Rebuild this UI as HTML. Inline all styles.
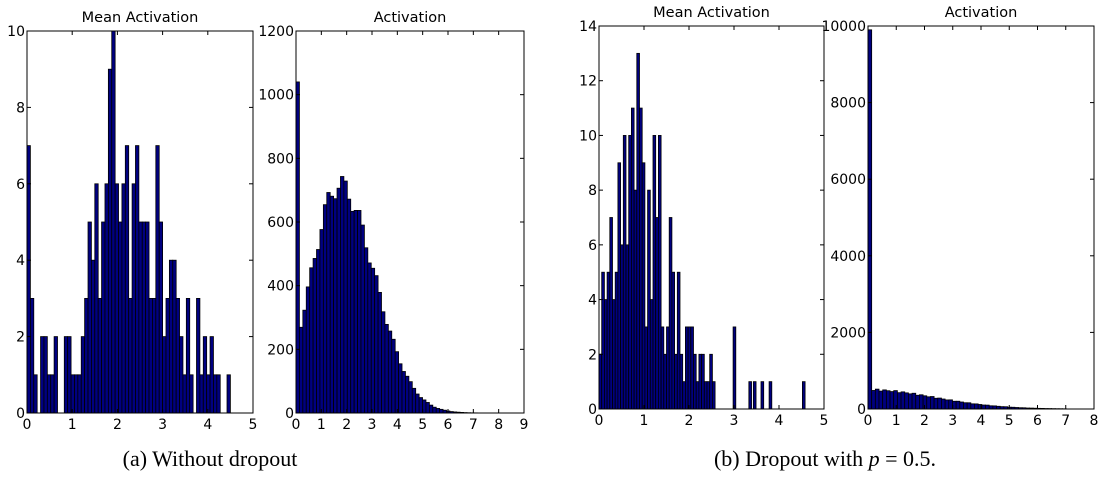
<!DOCTYPE html>
<html><head><meta charset="utf-8"><style>
html,body{margin:0;padding:0;background:#fff;width:1100px;height:483px;overflow:hidden}
svg text{font-family:"DejaVu Sans","Liberation Sans",sans-serif;fill:#000}
.cap{font-family:"Liberation Serif",serif;font-size:22px}
</style></head><body>
<svg id="s" width="1100" height="483" xmlns="http://www.w3.org/2000/svg">
<text class="cap" x="210" y="466" text-anchor="middle">(a) Without dropout</text>
<text class="cap" x="825" y="466" text-anchor="middle">(b) Dropout with <tspan font-style="italic">p</tspan> = 0.5.</text>
</svg>
<script>
var s=document.getElementById('s'),NS='http://www.w3.org/2000/svg';
function el(t,a,txt){var e=document.createElementNS(NS,t);for(var k in a)e.setAttribute(k,a[k]);if(txt!=null)e.textContent=txt;s.appendChild(e);return e;}
function panel(p){
 var sx=function(v){return p.x0+(p.x1-p.x0)*v/p.xmax},sy=function(v){return p.yB-(p.yB-p.yT)*v/p.ymax};
 p.bars.forEach(function(b){if(b[2]<=0)return;var h=Math.min(b[2],p.ymax);
  el('rect',{x:sx(b[0]),y:sy(h),width:Math.max(sx(b[0]+b[1])-sx(b[0]),0.8),height:sy(0)-sy(h),fill:'#000080',stroke:'#000','stroke-width':0.8});});
 el('rect',{x:p.x0,y:p.yT,width:p.x1-p.x0,height:p.yB-p.yT,fill:'none',stroke:'#000','stroke-width':1});
 for(var v=0;v<=p.ymax+1e-9;v+=p.ystep){var y=sy(v);
  el('line',{x1:p.x0,y1:y,x2:p.x0+4,y2:y,stroke:'#000'});el('line',{x1:p.x1,y1:y,x2:p.x1-4,y2:y,stroke:'#000'});
  el('text',{x:p.x0-2,y:y+5,'font-size':14,'text-anchor':'end'},String(v));}
 for(var v=0;v<=p.xmax;v++){var x=sx(v);
  el('line',{x1:x,y1:p.yB,x2:x,y2:p.yB-4,stroke:'#000'});el('line',{x1:x,y1:p.yT,x2:x,y2:p.yT+4,stroke:'#000'});
  el('text',{x:x,y:p.yB+16,'font-size':14,'text-anchor':'middle'},String(v));}
 el('text',{x:(p.x0+p.x1)/2,y:p.yT-9,'font-size':14.5,'text-anchor':'middle'},p.title);
}
function seq(arr,w,start){start=start||0;return arr.map(function(h,i){return [start+i*w,w,h]});}
var h1=[7,3,1,0,2,2,1,1,2,0,0,2,2,1,1,1,2,3,5,4,6,3,5,6,9,10,6,5,6,7,3,6,7,5,5,5,3,3,7,5,2,3,4,4,3,2,1,3,1,0,3,1,2,1,2,1,1,0,0,1];
var b2=[[0,0.135,1040]];
for(var x=0.135;x<8.8;x+=0.135){var c=x+0.067;var sd=c<1.7?1.1:1.4;var f=715*Math.exp(-Math.pow(c-1.7,2)/(2*sd*sd));f*=1+0.05*Math.sin(x*37);b2.push([x,0.135,f]);}
var h3=[2,5,4,5,7,4,5,9,6,10,6,10,11,8,13,11,9,3,8,4,10,7,10,3,2,3,7,5,2,5,2,1,3,3,3,2,1,2,2,1,1,2,1];
var b3=seq(h3,0.06).concat([[2.98,0.06,3],[3.33,0.06,1],[3.43,0.06,1],[3.6,0.06,1],[3.78,0.06,1],[4.52,0.06,1]]);
var b4=[[0,0.13,9900]];
for(var x=0.13;x<7;x+=0.13){var c=x+0.065;b4.push([x,0.13,500*Math.exp(-Math.pow(c/3.3,2))*(1+0.05*Math.sin(x*29))]);}
panel({x0:27,x1:253,yT:31,yB:413,xmax:5,ymax:10,ystep:2,title:'Mean Activation',bars:seq(h1,0.075)});
panel({x0:296,x1:524,yT:31,yB:413,xmax:9,ymax:1200,ystep:200,title:'Activation',bars:b2});
panel({x0:599,x1:824,yT:26,yB:409,xmax:5,ymax:14,ystep:2,title:'Mean Activation',bars:b3});
panel({x0:868,x1:1094,yT:26,yB:409,xmax:8,ymax:10000,ystep:2000,title:'Activation',bars:b4});
</script>
</body></html>
